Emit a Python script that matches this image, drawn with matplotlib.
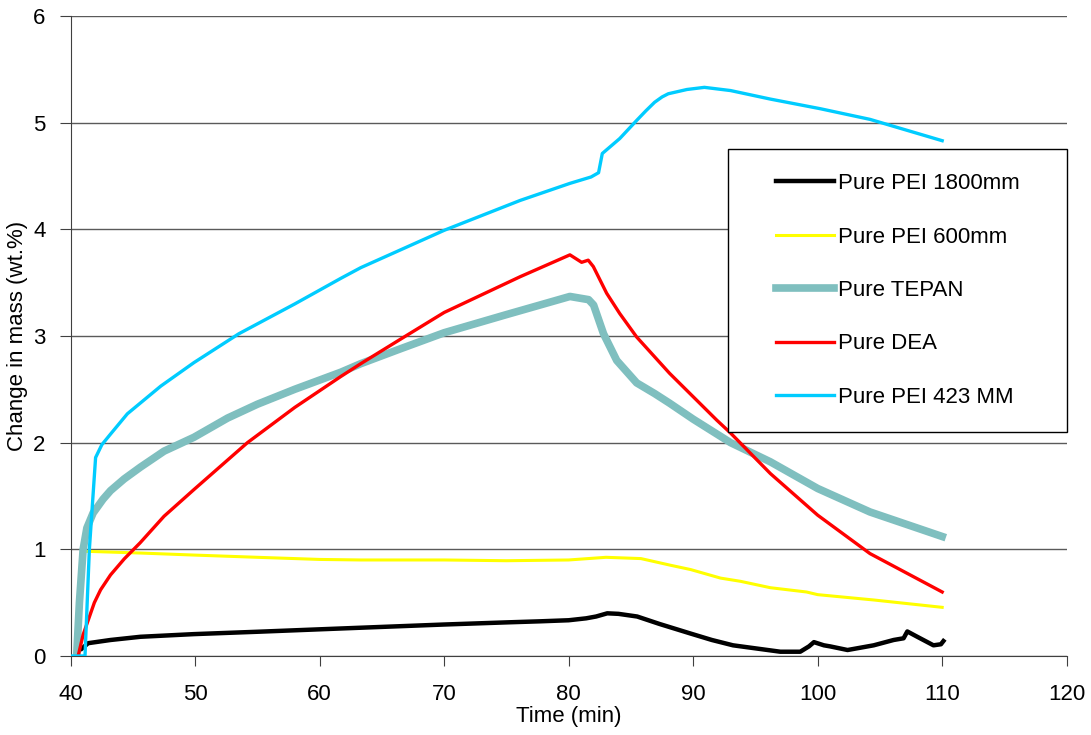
import matplotlib
matplotlib.use('Agg')
import matplotlib.pyplot as plt
from matplotlib.patches import Rectangle

plt.rcParams['font.family'] = 'Liberation Sans'
plt.rcParams['font.size'] = 16

# readings from the reference chart (time in min, change in mass wt.%)
pei1800_t = [40.9, 41.4, 43.2, 45.6, 49.9, 55.2, 60, 63.3, 70, 75, 77.7, 80, 81.4, 82.2, 83.1,
             84.0, 85.5, 87.3, 89.8, 91.5, 93.2, 95.1, 97, 98.6, 99.3, 99.7, 100.5, 101, 102.4,
             104.5, 106.1, 106.9, 107.2, 108, 109.3, 109.9, 110.1]
pei1800_m = [0.07, 0.12, 0.15, 0.18, 0.205, 0.228, 0.25, 0.265, 0.295, 0.315, 0.325, 0.335, 0.353,
             0.37, 0.40, 0.395, 0.37, 0.30, 0.21, 0.15, 0.10, 0.07, 0.04, 0.04, 0.09, 0.13, 0.10,
             0.09, 0.056, 0.10, 0.15, 0.166, 0.23, 0.18, 0.10, 0.11, 0.14]

pei600_t = [40.8, 40.96, 41.6, 45.6, 49.9, 55, 60, 63.3, 70, 75, 80, 83, 85.8, 86.3, 88.2, 89.8,
            92.2, 93.8, 96.2, 99.1, 100, 104.5, 110]
pei600_m = [0.87, 0.98, 0.98, 0.965, 0.946, 0.925, 0.905, 0.90, 0.90, 0.893, 0.90, 0.925, 0.913,
            0.90, 0.85, 0.81, 0.73, 0.70, 0.64, 0.60, 0.575, 0.525, 0.456]

tepan_t = [40.48, 40.7, 41.0, 41.3, 41.8, 42.6, 43.2, 44.3, 45.6, 47.5, 49.9, 52.6, 55, 58, 61.7,
           63.3, 66.5, 70, 75, 80.1, 81.6, 82.0, 82.8, 83.86, 85.46, 86.9, 88.1, 90, 93, 96.2,
           100, 104.2, 110]
tepan_m = [0.0, 0.5, 1.0, 1.2, 1.34, 1.47, 1.55, 1.66, 1.77, 1.92, 2.05, 2.23, 2.36, 2.5, 2.66,
           2.74, 2.88, 3.03, 3.20, 3.37, 3.34, 3.29, 3.02, 2.77, 2.56, 2.46, 2.37, 2.22, 2.0,
           1.82, 1.57, 1.35, 1.12]

dea_t = [40.6, 41.0, 41.33, 41.9, 42.4, 43.2, 44.3, 45.57, 47.5, 49.9, 54.2, 58, 61.7, 63.3,
         66.5, 70, 76.1, 80.1, 81.04, 81.57, 81.98, 83.05, 84.1, 85.46, 88.1, 90, 91.9, 93, 96.2,
         100, 104.2, 110]
dea_m = [0.0, 0.2, 0.31, 0.5, 0.62, 0.76, 0.91, 1.06, 1.31, 1.56, 2.0, 2.33, 2.62, 2.74, 2.97,
         3.22, 3.555, 3.76, 3.69, 3.71, 3.65, 3.40, 3.21, 2.99, 2.65, 2.43, 2.21, 2.09, 1.71,
         1.32, 0.96, 0.60]

pei423_t = [40.0, 41.15, 41.5, 42.0, 42.5, 43.2, 44.55, 47.24, 49.9, 53.5, 58, 61.7, 63.3, 70,
            76.1, 80.1, 81.8, 82.4, 82.7, 83.3, 84.1, 85.46, 86.2, 86.9, 87.5, 88, 89.5, 90.9,
            93, 96.2, 100.2, 104.2, 110]
pei423_m = [0.0, 0.0, 1.0, 1.86, 1.98, 2.08, 2.27, 2.53, 2.75, 3.02, 3.30, 3.54, 3.64, 3.99,
            4.27, 4.43, 4.49, 4.53, 4.71, 4.77, 4.85, 5.02, 5.11, 5.19, 5.24, 5.27, 5.31, 5.33,
            5.30, 5.22, 5.13, 5.03, 4.83]

fig = plt.figure(figsize=(10.91, 7.35), dpi=100)
ax = fig.add_axes([0.0648, 0.1075, 0.9129, 0.8709])

ax.plot(pei1800_t, pei1800_m, color='black', lw=3.2, label='Pure PEI 1800mm', zorder=3)
ax.plot(pei600_t, pei600_m, color='#ffff00', lw=2.2, label='Pure PEI 600mm', zorder=3)
ax.plot(tepan_t, tepan_m, color='#7fbfbf', lw=5.5, label='Pure TEPAN', zorder=3)
ax.plot(dea_t, dea_m, color='#ff0000', lw=2.4, label='Pure DEA', zorder=3)
ax.plot(pei423_t, pei423_m, color='#00ccff', lw=2.4, label='Pure PEI 423 MM', zorder=3)

ax.set_xlim(40, 120)
ax.set_ylim(0, 6)
ax.set_xticks(range(40, 121, 10))
ax.set_yticks(range(0, 7))
ax.yaxis.grid(True, color='#5a5a5a', lw=1)
ax.set_axisbelow(True)
for s in ['top', 'right']:
    ax.spines[s].set_visible(False)
for s in ['left', 'bottom']:
    ax.spines[s].set_color('#404040')
ax.tick_params(axis='x', length=7, pad=13, color='#404040')
ax.tick_params(axis='y', length=8, pad=10, color='#404040')

ax.set_xlabel('Time (min)', labelpad=1)
ax.set_ylabel('Change in mass (wt.%)', labelpad=4)

# legend box drawn by hand so the entries sit inside with wide margins
ax.add_patch(Rectangle((0.66, 0.35), 0.34, 0.442, transform=ax.transAxes,
                       facecolor='white', edgecolor='black', lw=1, zorder=4, clip_on=False))
leg = ax.legend(loc='center left', bbox_to_anchor=(0.708, 0.571), frameon=False,
                borderpad=0, borderaxespad=0, handlelength=2.6, handletextpad=0.2,
                labelspacing=1.46, fontsize=16)
leg.set_zorder(5)

fig.savefig('out.png', dpi=100)
